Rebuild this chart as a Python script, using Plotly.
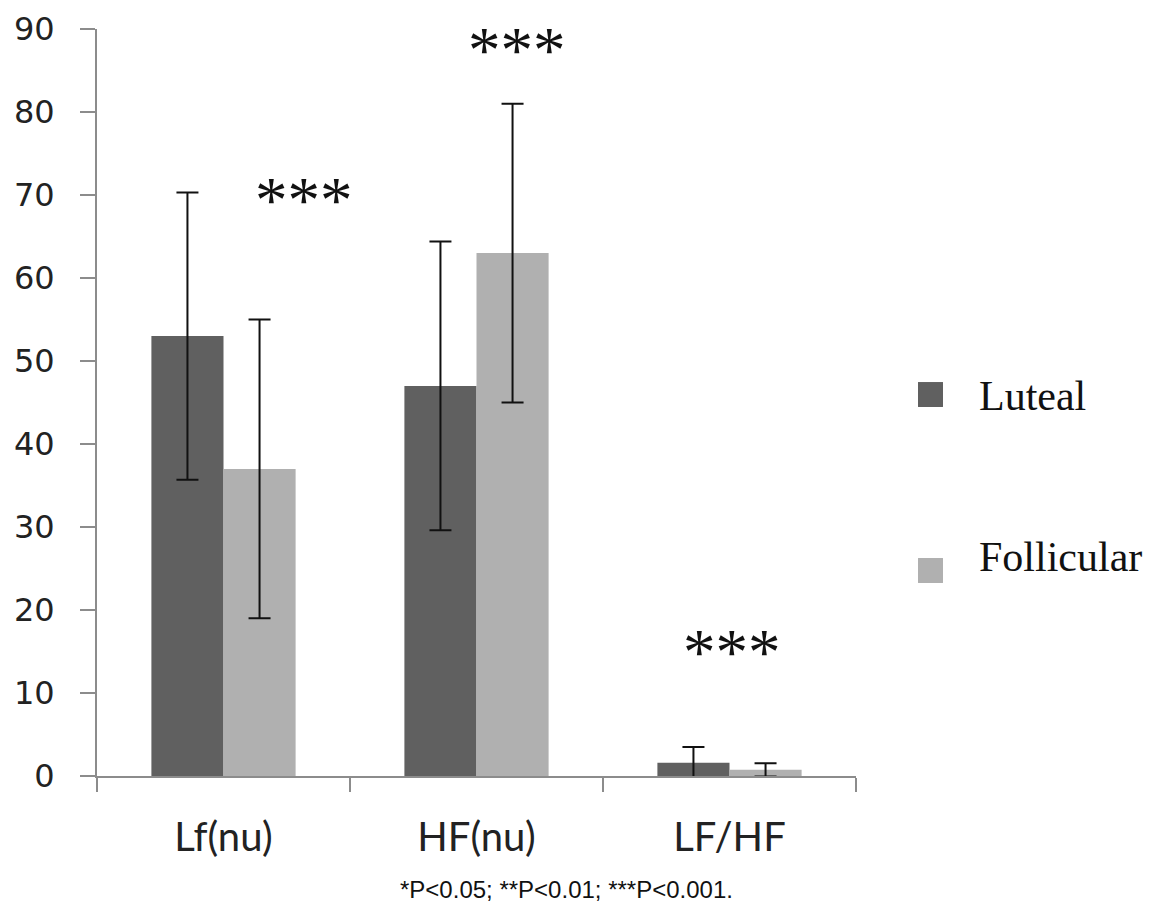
import plotly.graph_objects as go

categories = ["Lf(nu)", "HF(nu)", "LF/HF"]
luteal = [53, 47, 1.6]
follicular = [37, 63, 0.75]
luteal_err = [17.3, 17.4, 1.9]
follicular_err = [18, 18, 0.8]
sig_labels = ["***", "***", "***"]
sig_y = [69.4, 87.5, 14.9]
sig_xshift = [80, 40, 2]
y_ticks = [0, 10, 20, 30, 40, 50, 60, 70, 80, 90]
legend_names = ["Luteal", "Follicular"]
colors = ["#606060", "#b0b0b0"]
footnote = "*P<0.05; **P<0.01; ***P<0.001."

fig = go.Figure()
for name, vals, errs, col in zip(legend_names, [luteal, follicular],
                                 [luteal_err, follicular_err], colors):
    fig.add_trace(go.Bar(
        x=categories, y=vals, name=name,
        marker=dict(color=col, line=dict(width=0)),
        error_y=dict(type="data", array=errs, visible=True,
                     color="#111111", thickness=2, width=11),
    ))

for i, (lab, yv) in enumerate(zip(sig_labels, sig_y)):
    fig.add_annotation(
        x=categories[i], y=yv, text=lab, showarrow=False,
        xshift=sig_xshift[i], yanchor="middle",
        font=dict(family="Liberation Serif", size=65, color="#111111"),
    )

# custom legend (large squares and labels)
leg_sq_y = [(0.4940, 0.5274), (0.2584, 0.2918)]
leg_txt_y = [0.5087, 0.293]
for name, col, (y0, y1), ty in zip(legend_names, colors, leg_sq_y, leg_txt_y):
    fig.add_shape(type="rect", xref="paper", yref="paper",
                  x0=1.0817, x1=1.1146, y0=y0, y1=y1,
                  fillcolor=col, line=dict(width=0))
    fig.add_annotation(x=1.1594, y=ty, xref="paper", yref="paper",
                       xanchor="left", yanchor="middle", text=name,
                       showarrow=False,
                       font=dict(family="Liberation Serif", size=42,
                                 color="#111111"))

fig.add_annotation(
    x=0.618, y=-0.152, xref="paper", yref="paper", xanchor="center",
    yanchor="middle", text=footnote, showarrow=False,
    font=dict(family="Liberation Sans", size=24, color="#111111"),
)

fig.update_layout(
    width=1144, height=894,
    margin=dict(l=89, r=296, t=21, b=126, autoexpand=False),
    paper_bgcolor="white", plot_bgcolor="white",
    barmode="group", bargap=0.43, bargroupgap=0,
    showlegend=False,
    xaxis=dict(
        automargin=False,
        showline=True, linecolor="#8c8c8c", linewidth=2,
        ticks="outside", tickson="boundaries", ticklen=14,
        tickcolor="#8c8c8c", tickwidth=2,
        ticklabelstandoff=25,
        tickfont=dict(family="Lato", size=40, color="#222222"),
        showgrid=False, zeroline=False,
    ),
    yaxis=dict(
        automargin=False,
        range=[0, 90], tickvals=y_ticks,
        showline=True, linecolor="#8c8c8c", linewidth=2,
        ticks="outside", ticklen=15, tickcolor="#8c8c8c", tickwidth=2,
        ticklabelstandoff=19,
        tickfont=dict(family="DejaVu Sans", size=32, color="#222222"),
        showgrid=False, zeroline=False,
    ),
)

fig.write_html("out.html")
